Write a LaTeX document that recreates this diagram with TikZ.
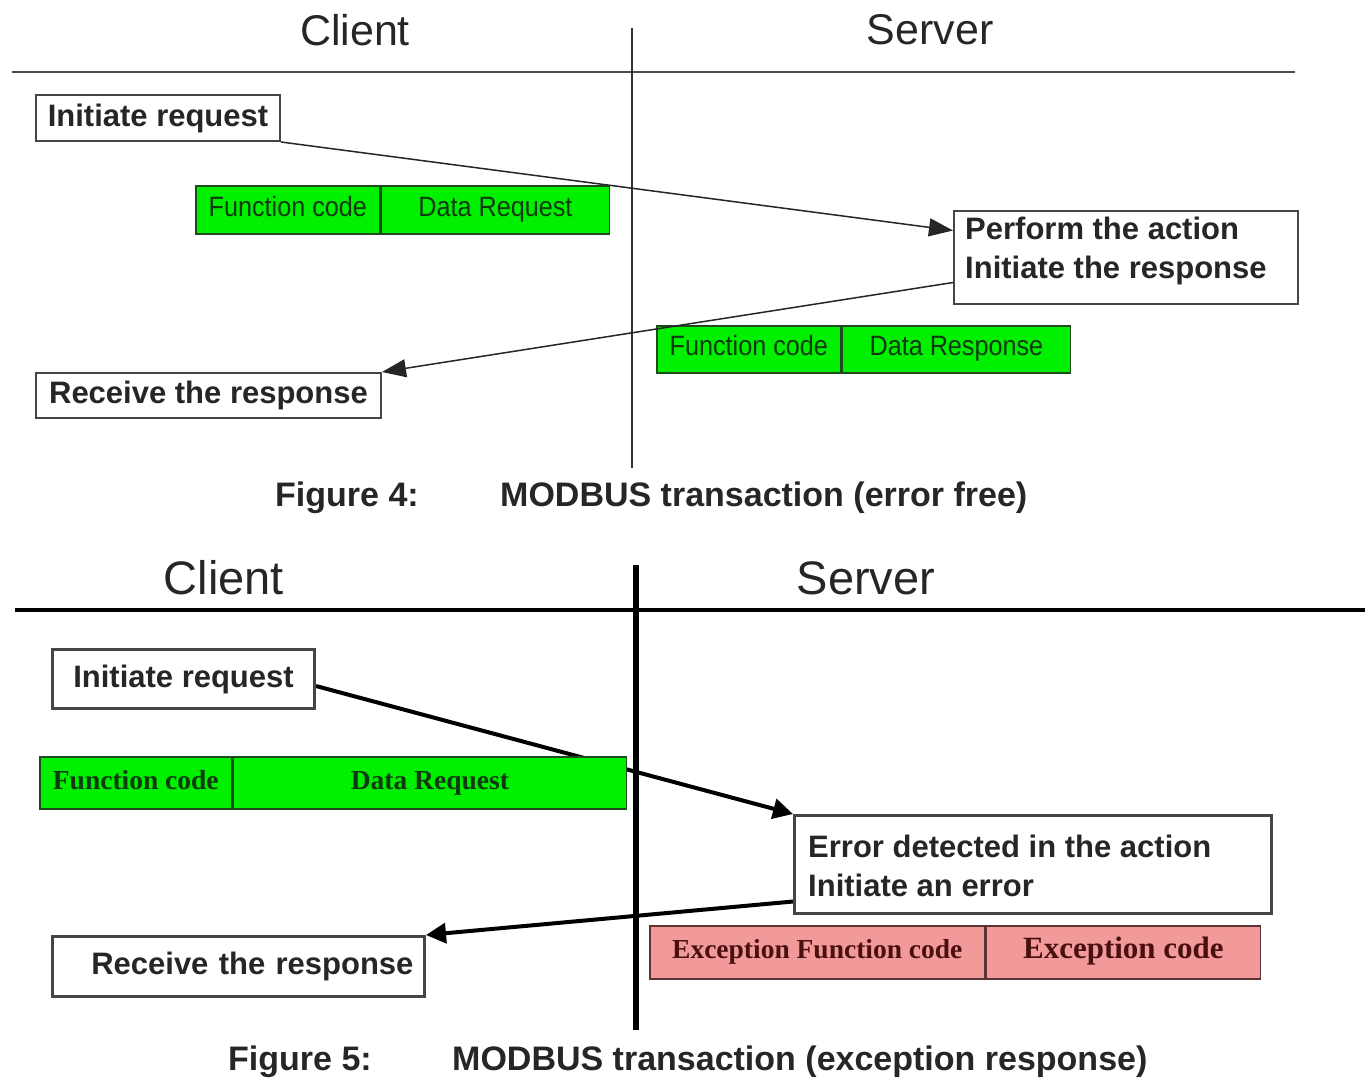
\documentclass[tikz,border=0pt]{standalone}
\usepackage{fontspec}
\setmainfont{Liberation Sans}
\newfontfamily\narrowfont[FakeStretch=0.9]{Liberation Sans}
\newfontfamily\timesfont{Liberation Serif}
\usetikzlibrary{positioning,arrows.meta,backgrounds}

\definecolor{boxgray}{HTML}{454545}
\definecolor{pdufill}{HTML}{00F000}
\definecolor{pduedge}{HTML}{1E4A1E}
\definecolor{pdutext}{HTML}{0F3A0F}
\definecolor{excfill}{HTML}{F29A9A}
\definecolor{excedge}{HTML}{5A3434}
\definecolor{exctext}{HTML}{4A1010}

\tikzset{
	box/.style = {draw=boxgray, line width=2pt, fill=white, inner sep=0pt, text=black!85,
		font=\fontsize{31}{39}\selectfont\bfseries},
	txt/.style = {inner sep=0pt, text=black!85, align=left, font=\fontsize{31}{39}\selectfont\bfseries},
	side/.style = {inner sep=0pt, text=black!85},
	caption/.style = {inner sep=0pt, anchor=west, text=black!85, font=\fontsize{34}{40}\selectfont\bfseries},
	pdu/.style = {draw=pduedge, line width=1.6pt, fill=pdufill, inner sep=0pt, text=pdutext,
		text height=21pt, text depth=8pt},
	exc/.style = {draw=excedge, line width=1.6pt, fill=excfill, inner sep=0pt, text=exctext,
		minimum height=53, text height=20pt, text depth=7pt},
	msgA/.style = {draw=black!85, line width=1.5pt, -{Triangle[length=24pt,width=18pt]}},
	msgB/.style = {draw=black, line width=4pt, -{Triangle[length=20pt,width=20pt]}}
}

\begin{document}
\begin{tikzpicture}[x=1pt, y=-1pt]
	\useasboundingbox (0,0) rectangle (1368,1090);

	%	figure 4

	\node[side, font=\fontsize{43}{48}\selectfont] (clientA) at (355,30) {Client};
	\node[side, font=\fontsize{43}{48}\selectfont] (serverA) at (930,30) {Server};
	\draw[black!70, line width=2pt] (12,72) -- (1295,72);
	\draw[black!80, line width=1.5pt] (632,28) -- (632,468);

	\node[box, minimum width=244, minimum height=46, anchor=north west] (ireqA) at (35,94) {Initiate request};
	\node[pdu, minimum width=184, minimum height=48, anchor=north west,
		font=\narrowfont\fontsize{28}{30}\selectfont] (fcA) at (195,185) {Function code};
	\node[pdu, minimum width=228, minimum height=48, right=0pt of fcA,
		font=\narrowfont\fontsize{28}{30}\selectfont] (drA) {Data Request};
	\node[box, minimum width=344, minimum height=93, anchor=north west] (actA) at (953,210) {};
	\node[txt, anchor=north west] (actAtxt) at (965,217) {Perform the action\\Initiate the response};
	\node[pdu, minimum width=184, minimum height=47, anchor=north west,
		font=\narrowfont\fontsize{28}{30}\selectfont] (fcA2) at (656,325) {Function code};
	\node[pdu, minimum width=228, minimum height=47, right=0pt of fcA2,
		font=\narrowfont\fontsize{28}{30}\selectfont] (drA2) {Data Response};
	\node[box, minimum width=345, minimum height=45, anchor=north west] (recvA) at (35,372) {Receive the response};

	\draw[msgA] (ireqA.south east) -- ([yshift=27pt]actA.west);
	\draw[msgA] ([yshift=-25pt]actA.west) -- (recvA.north east);

	\node[caption] (figA) at (275,498) {Figure 4:};
	\node[caption] (capA) at (500,498) {MODBUS transaction (error free)};

	%	figure 5

	\node[side, font=\fontsize{47}{52}\selectfont] (clientB) at (224,578) {Client};
	\node[side, font=\fontsize{47}{52}\selectfont] (serverB) at (866,578) {Server};
	\draw[black, line width=4pt] (15,610) -- (1365,610);
	\draw[black, line width=6pt] (636,565) -- (636,1030);

	\node[box, line width=3pt, minimum width=262, minimum height=59, anchor=north west] (ireqB) at (51,648) {Initiate request};
	\node[box, line width=3pt, minimum width=477, minimum height=98, anchor=north west] (errB) at (793,814) {};
	\node[txt, anchor=north west] (errBtxt) at (808,835) {Error detected in the action\\Initiate an error};
	\node[box, line width=3pt, text width=350, align=right, inner xsep=11pt, minimum height=60,
		anchor=north west] (recvB) at (51,935) {Receive the response};

	\begin{scope}[on background layer]
		\draw[msgB] ([yshift=-7pt]ireqB.east) -- (errB.north west);
		\draw[msgB] ([yshift=-37pt]errB.west) -- (recvB.north east);
	\end{scope}

	\node[pdu, minimum width=192, minimum height=52, anchor=north west,
		font=\timesfont\bfseries\fontsize{27.5}{30}\selectfont] (fcB) at (39,756) {Function code};
	\node[pdu, minimum width=393, minimum height=52, right=0pt of fcB,
		font=\timesfont\bfseries\fontsize{27.5}{30}\selectfont] (drB) {Data Request};
	\node[exc, minimum width=335, anchor=north west,
		font=\timesfont\bfseries\fontsize{27.5}{30}\selectfont] (efcB) at (649,925) {Exception Function code};
	\node[exc, minimum width=274, right=0pt of efcB,
		font=\timesfont\bfseries\fontsize{31}{34}\selectfont] (ecB) {Exception code};

	\node[caption] (figB) at (228,1062) {Figure 5:};
	\node[caption] (capB) at (452,1062) {MODBUS transaction (exception response)};
\end{tikzpicture}
\end{document}
